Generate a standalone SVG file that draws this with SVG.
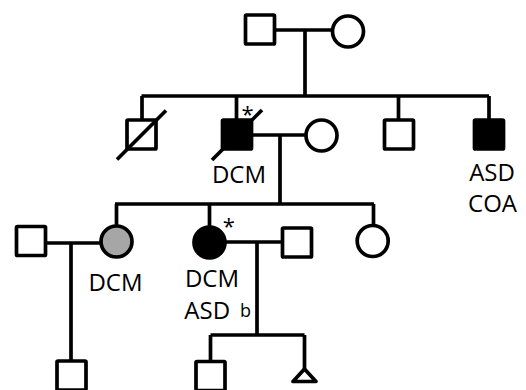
<svg xmlns="http://www.w3.org/2000/svg" width="526" height="390" viewBox="0 0 526 390">
<style>
.s{fill:#fff;stroke:#000;stroke-width:3.7;stroke-linejoin:round}
.a{fill:#000}
.g{fill:#a6a6a6}
.ln{fill:none;stroke:#000;stroke-width:3.7}
.t{font-family:"Open Sans","Liberation Sans",sans-serif;font-size:24px;fill:#000}
.m{text-anchor:middle}
.sup{font-family:"Open Sans","Liberation Sans",sans-serif;font-size:18px;fill:#000}
.ast{font-family:"Open Sans","Liberation Sans",sans-serif;font-size:22px;fill:#000;text-anchor:middle}
</style>
<rect width="526" height="390" fill="#fff"/>
<g id="connectors" class="ln">
<path d="M274.5 30H332.5M305 30V96M141.5 96H489M142 96V120M236.5 96V120M398.5 96V120M489 96V120"/>
<path d="M251.5 135H306M280 135V204M115 204H374M116.5 204V226M209.5 204V227M373.5 204V225.5"/>
<path d="M45.5 243H101M71 243V361M224 242H283M257 242V335M210.5 335H304.5M210.5 335V362M304.5 335V369"/>
</g>
<g id="I-1"><rect class="s" x="245.5" y="15" width="29" height="29" rx="1"/></g>
<g id="I-2"><circle class="s" cx="348" cy="31.5" r="15.5"/></g>
<g id="II-1"><rect class="s" x="127" y="120" width="29" height="29" rx="1"/><path class="ln" d="M117 159.5L166 110.5"/></g>
<g id="II-2"><rect class="s a" x="222.5" y="120" width="29" height="29" rx="1"/><path class="ln" d="M212 160L262 110"/><text class="ast" x="247.5" y="122">*</text><text class="t m" x="239" y="183.3">DCM</text></g>
<g id="II-2-spouse"><circle class="s" cx="321.5" cy="135.5" r="15.5"/></g>
<g id="II-3"><rect class="s" x="384.5" y="120" width="29" height="29" rx="1"/></g>
<g id="II-4"><rect class="s a" x="474.5" y="120" width="29" height="29" rx="1"/><text class="t m" x="492" y="180.7">ASD</text><text class="t m" x="492.5" y="211.7">COA</text></g>
<g id="III-1-spouse"><rect class="s" x="16.5" y="226.5" width="29" height="29" rx="1"/></g>
<g id="III-1"><circle class="s g" cx="116.5" cy="241.5" r="15.5"/><text class="t m" x="115.5" y="290.5">DCM</text></g>
<g id="III-2"><circle class="s a" cx="209.5" cy="242.5" r="15.5"/><text class="ast" x="228.7" y="234">*</text><text class="t m" x="212" y="286.5">DCM</text><text class="t" x="184.3" y="318.5">ASD</text><text class="sup" x="240" y="316.5">b</text></g>
<g id="III-2-spouse"><rect class="s" x="282.5" y="228" width="29" height="29" rx="1"/></g>
<g id="III-3"><circle class="s" cx="372.7" cy="241" r="15.5"/></g>
<g id="IV-1"><rect class="s" x="57" y="361" width="29" height="29" rx="1"/></g>
<g id="IV-2"><rect class="s" x="196" y="361.5" width="29" height="29" rx="1"/></g>
<g id="IV-3"><path class="s" d="M304.5 369L316 381.5H293Z"/></g>
</svg>
